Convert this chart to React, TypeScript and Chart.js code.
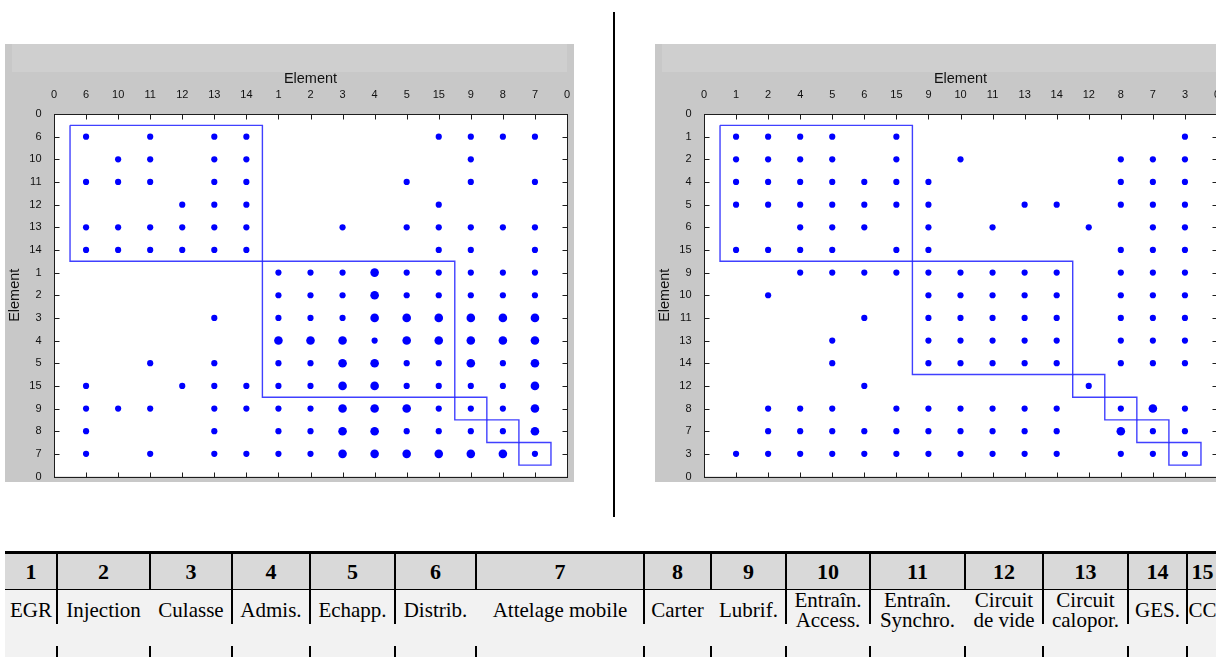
import React, { useEffect, useRef } from 'react';
import { Chart, registerables } from 'chart.js';

Chart.register(...registerables);

// ---------- DATA ----------
// Element order along both axes (positions 1..15)
const leftOrder = [6, 10, 11, 12, 13, 14, 1, 2, 3, 4, 5, 15, 9, 8, 7];
const rightOrder = [1, 2, 4, 5, 6, 15, 9, 10, 11, 13, 14, 12, 8, 7, 3];

// For each row position (1..15), the column positions holding a mark
const leftRows = [
  [1, 3, 5, 6, 12, 13, 14, 15],
  [2, 3, 5, 6, 13],
  [1, 2, 3, 5, 6, 11, 13, 15],
  [4, 5, 6, 12],
  [1, 2, 3, 4, 5, 6, 9, 11, 12, 13, 14, 15],
  [1, 2, 3, 4, 5, 6, 12, 13, 15],
  [7, 8, 9, 10, 11, 12, 13, 14, 15],
  [7, 8, 9, 10, 11, 12, 13, 14, 15],
  [5, 7, 8, 9, 10, 11, 12, 13, 14, 15],
  [7, 8, 9, 10, 11, 12, 13, 14, 15],
  [3, 5, 7, 8, 9, 10, 11, 12, 13, 14, 15],
  [1, 4, 5, 6, 7, 8, 9, 10, 11, 12, 13, 14, 15],
  [1, 2, 3, 5, 6, 7, 8, 9, 10, 11, 12, 13, 14, 15],
  [1, 5, 7, 8, 9, 10, 11, 12, 13, 14, 15],
  [1, 3, 5, 6, 7, 8, 9, 10, 11, 12, 13, 14, 15],
];
// Column positions of the stronger (bigger) marks per row
const leftStrong = [
  [], [], [], [], [], [],
  [10],
  [10],
  [10, 11, 12, 13, 14, 15],
  [7, 8, 9, 11, 12, 13, 14, 15],
  [9, 10, 13, 15],
  [9, 10, 15],
  [9, 10, 11, 15],
  [9, 10, 15],
  [9, 10, 11, 12, 13, 14],
];
// Clusters (first and last position)
const leftBlocks = [[1, 6], [7, 12], [13, 13], [14, 14], [15, 15]];

const rightRows = [
  [1, 2, 3, 4, 6, 15],
  [1, 2, 3, 4, 6, 8, 13, 14, 15],
  [1, 2, 3, 4, 5, 6, 7, 13, 14, 15],
  [1, 2, 3, 4, 5, 6, 7, 10, 11, 13, 14, 15],
  [3, 4, 5, 7, 9, 12, 14, 15],
  [1, 2, 3, 4, 6, 7, 13, 14, 15],
  [3, 4, 5, 6, 7, 8, 9, 10, 11, 13, 14, 15],
  [2, 7, 8, 9, 10, 11, 13, 14, 15],
  [5, 7, 8, 9, 10, 11, 13, 14, 15],
  [4, 7, 8, 9, 10, 11, 13, 14, 15],
  [4, 7, 8, 9, 10, 11, 13, 14, 15],
  [5, 12],
  [2, 3, 4, 6, 7, 8, 9, 10, 11, 13, 14, 15],
  [2, 3, 4, 5, 6, 7, 8, 9, 10, 11, 13, 14, 15],
  [1, 2, 3, 4, 5, 6, 7, 8, 9, 10, 11, 13, 14, 15],
];
const rightStrong = [
  [], [], [], [], [], [], [], [], [], [], [], [],
  [14],
  [13],
  [],
];
const rightBlocks = [[1, 6], [7, 11], [12, 12], [13, 13], [14, 14], [15, 15]];

// Table below the charts
const tableNumbers = ['1', '2', '3', '4', '5', '6', '7', '8', '9', '10', '11', '12', '13', '14', '15'];
const tableNames = [
  'EGR', 'Injection', 'Culasse', 'Admis.', 'Echapp.', 'Distrib.', 'Attelage mobile',
  'Carter', 'Lubrif.', 'Entraîn.\nAccess.', 'Entraîn.\nSynchro.', 'Circuit\nde vide',
  'Circuit\ncalopor.', 'GES.', 'CC',
];

// ---------- STYLE / LAYOUT ----------
const SANS = '"Liberation Sans", Arial, Helvetica, sans-serif';
const SERIF = '"Liberation Serif", "Times New Roman", Times, serif';
const PANEL_W = 569;
const PANEL_H = 438;
const colEdges = [5, 57, 150, 232, 310, 395, 476, 644, 711, 786, 870, 965, 1043, 1128, 1187, 1218];
const bodyUpper = [true, false, true, true, true, false, true, false, true, true, false, true, true, true];
const TABLE_TOP = 551;
const HEADER_BOTTOM = 590;

const bgPlugin = {
  id: 'panelBg',
  beforeDraw(chart: any) {
    const { ctx, width, height, chartArea } = chart;
    ctx.save();
    ctx.fillStyle = '#c8c8c8';
    ctx.fillRect(0, 0, width, height);
    ctx.fillStyle = '#cfcfcf';
    ctx.fillRect(7, 0, 555, 28);
    ctx.fillStyle = '#ffffff';
    ctx.fillRect(chartArea.left, chartArea.top, chartArea.right - chartArea.left, chartArea.bottom - chartArea.top);
    ctx.restore();
  },
};

const framePlugin = {
  id: 'frameTicks',
  afterDraw(chart: any) {
    const { ctx, chartArea, scales } = chart;
    const l = Math.round(chartArea.left) + 0.5;
    const r = Math.round(chartArea.right) + 0.5;
    const t = Math.round(chartArea.top) + 0.5;
    const b = Math.round(chartArea.bottom) + 0.5;
    ctx.save();
    ctx.strokeStyle = '#1e1e1e';
    ctx.lineWidth = 1;
    ctx.strokeRect(l, t, r - l, b - t);
    ctx.beginPath();
    for (let i = 1; i <= 15; i++) {
      const px = Math.round(scales.x.getPixelForValue(i)) + 0.5;
      ctx.moveTo(px, t); ctx.lineTo(px, t + 5);
      ctx.moveTo(px, b); ctx.lineTo(px, b - 5);
      const py = Math.round(scales.y.getPixelForValue(i)) + 0.5;
      ctx.moveTo(l, py); ctx.lineTo(l + 5, py);
      ctx.moveTo(r, py); ctx.lineTo(r - 5, py);
    }
    ctx.stroke();
    ctx.restore();
  },
};

function DsmChart(props: { order: number[]; rows: number[][]; strong: number[][]; blocks: number[][]; left: number; top: number }) {
  const ref = useRef<HTMLCanvasElement | null>(null);
  useEffect(() => {
    if (!ref.current) return;
    const { order, rows, strong, blocks } = props;
    const tickLabels = ['0', ...order.map(String), '0'];
    const dots: { x: number; y: number }[] = [];
    const radii: number[] = [];
    rows.forEach((cols, ri) => {
      cols.forEach((c) => {
        dots.push({ x: c, y: ri + 1 });
        radii.push(strong[ri].includes(c) ? 4.3 : 3.1);
      });
    });
    const boxSets = blocks.map(([a, b]) => ({
      data: [
        { x: a - 0.5, y: a - 0.5 },
        { x: b + 0.5, y: a - 0.5 },
        { x: b + 0.5, y: b + 0.5 },
        { x: a - 0.5, y: b + 0.5 },
        { x: a - 0.5, y: a - 0.5 },
      ],
      showLine: true,
      borderColor: 'rgba(30,30,255,0.85)',
      borderWidth: 1.4,
      pointRadius: 0,
      fill: false,
    }));
    const chart = new Chart(ref.current, {
      type: 'scatter',
      data: {
        datasets: [
          ...boxSets,
          { data: dots, pointRadius: radii, backgroundColor: '#0000ff', borderWidth: 0, pointBorderWidth: 0 },
        ] as any,
      },
      options: {
        responsive: false,
        maintainAspectRatio: false,
        animation: false,
        events: [],
        layout: { padding: { top: 0, left: 0, right: 7, bottom: 5.5 } },
        plugins: { legend: { display: false }, tooltip: { enabled: false } },
        scales: {
          x: {
            type: 'linear',
            position: 'top',
            min: 0,
            max: 16,
            grid: { display: false },
            border: { display: false },
            ticks: {
              stepSize: 1,
              autoSkip: false,
              maxRotation: 0,
              padding: 4.5,
              color: '#111',
              font: { family: SANS, size: 11 },
              callback: (v: any) => tickLabels[v] ?? '',
            },
            title: {
              display: true,
              text: 'Element',
              color: '#111',
              font: { family: SANS, size: 14.5 },
              padding: { top: 26.3, bottom: 0 },
            },
            afterFit: (s: any) => {
              s.height = 70;
              s.paddingLeft = 0;
              s.paddingRight = 0;
            },
          },
          y: {
            type: 'linear',
            position: 'left',
            reverse: true,
            min: 0,
            max: 16,
            grid: { display: false },
            border: { display: false },
            ticks: {
              stepSize: 1,
              autoSkip: false,
              padding: 4.5,
              color: '#111',
              font: { family: SANS, size: 11 },
              callback: (v: any) => tickLabels[v] ?? '',
            },
            title: {
              display: true,
              text: 'Element',
              color: '#111',
              font: { family: SANS, size: 14.5 },
              padding: { top: 1.3, bottom: 0 },
            },
            afterFit: (s: any) => {
              s.width = 49;
              s.paddingTop = 0;
              s.paddingBottom = 0;
            },
          },
        },
      } as any,
      plugins: [bgPlugin, framePlugin],
    });
    return () => chart.destroy();
  }, []);
  return (
    <canvas
      ref={ref}
      width={PANEL_W}
      height={PANEL_H}
      style={{ position: 'absolute', left: props.left, top: props.top, width: PANEL_W, height: PANEL_H }}
    />
  );
}

export default function App() {
  const inner = colEdges.slice(1, -1);
  return (
    <div style={{ position: 'fixed', left: 0, top: 0, width: 1216, height: 657, overflow: 'hidden', background: '#fff' }}>
      <DsmChart order={leftOrder} rows={leftRows} strong={leftStrong} blocks={leftBlocks} left={5} top={44} />
      <DsmChart order={rightOrder} rows={rightRows} strong={rightStrong} blocks={rightBlocks} left={655} top={44} />
      <div style={{ position: 'absolute', left: 613, top: 12, width: 2, height: 505, background: '#000' }} />

      {/* table */}
      <div style={{ position: 'absolute', left: colEdges[0], top: TABLE_TOP, width: 1216 - colEdges[0], height: HEADER_BOTTOM - TABLE_TOP, background: '#d9d9d9' }} />
      <div style={{ position: 'absolute', left: colEdges[0], top: HEADER_BOTTOM, width: 1216 - colEdges[0], height: 657 - HEADER_BOTTOM, background: '#f2f2f2' }} />
      <div style={{ position: 'absolute', left: colEdges[0], top: TABLE_TOP, width: 1216 - colEdges[0], height: 3, background: '#000' }} />
      <div style={{ position: 'absolute', left: colEdges[0], top: HEADER_BOTTOM - 1, width: 1216 - colEdges[0], height: 1, background: '#000' }} />
      {inner.map((x, i) => (
        <React.Fragment key={'v' + i}>
          <div style={{ position: 'absolute', left: x - 1, top: TABLE_TOP, width: 2, height: HEADER_BOTTOM - TABLE_TOP, background: '#000' }} />
          {bodyUpper[i] && (
            <div style={{ position: 'absolute', left: x - 1, top: HEADER_BOTTOM, width: 2, height: 34, background: '#000' }} />
          )}
          <div style={{ position: 'absolute', left: x - 1, top: 646, width: 2, height: 11, background: '#000' }} />
        </React.Fragment>
      ))}
      {tableNumbers.map((n, i) => (
        <div
          key={'h' + i}
          style={{
            position: 'absolute', left: colEdges[i], top: TABLE_TOP + 3, width: colEdges[i + 1] - colEdges[i],
            height: HEADER_BOTTOM - TABLE_TOP - 4, display: 'flex', alignItems: 'center', justifyContent: 'center',
            fontFamily: SERIF, fontWeight: 'bold', fontSize: 22, color: '#000', whiteSpace: 'nowrap',
          }}
        >
          {n}
        </div>
      ))}
      {tableNames.map((n, i) => (
        <div
          key={'b' + i}
          style={{
            position: 'absolute', left: colEdges[i], top: HEADER_BOTTOM, width: colEdges[i + 1] - colEdges[i],
            height: 40, display: 'flex', alignItems: 'center', justifyContent: 'center', textAlign: 'center',
            fontFamily: SERIF, fontSize: 21, lineHeight: '20px', color: '#000', whiteSpace: 'pre',
          }}
        >
          {n}
        </div>
      ))}
    </div>
  );
}
